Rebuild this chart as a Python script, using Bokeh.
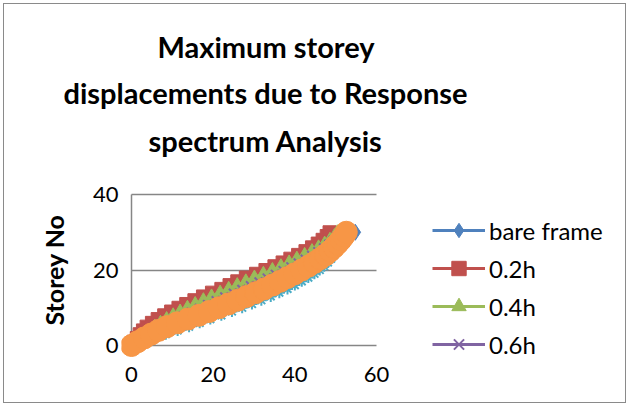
from bokeh.plotting import figure
from bokeh.models import Range1d, FixedTicker, Legend, LegendItem, Title
from bokeh.embed import file_html
from bokeh.resources import INLINE

# Storey numbers and maximum storey displacements (mm) for each infill case
storeys = [0, 1, 2, 3, 4, 5, 6, 7, 8, 9, 10, 11, 12, 13, 14, 15,
           16, 17, 18, 19, 20, 21, 22, 23, 24, 25, 26, 27, 28, 29, 30]

bare_frame = [0, 1.8, 3.8, 6.0, 8.2, 10.6, 13.0, 15.5, 18.1, 20.6, 23.0, 25.4, 27.7, 29.9, 32.0, 34.0,
              35.9, 37.8, 39.6, 41.3, 42.9, 44.4, 45.8, 47.1, 48.3, 49.3, 50.2, 51.0, 51.7, 52.4, 54.8]
h02 = [0, 0.6, 1.3, 2.0, 2.8, 3.7, 5.0, 6.4, 8.0, 9.7, 11.5, 13.4, 15.4, 17.5, 19.7, 22.0,
       24.0, 25.9, 28.0, 30.5, 32.8, 35.0, 37.0, 38.9, 40.8, 42.6, 44.2, 45.6, 46.8, 47.8, 48.5]
h04 = [0, 1.0, 2.1, 3.2, 4.4, 5.7, 7.1, 8.6, 10.2, 11.9, 13.7, 15.6, 17.6, 19.6, 21.7, 23.8,
       25.9, 28.0, 30.1, 32.3, 34.5, 36.6, 38.6, 40.5, 42.4, 44.2, 45.8, 47.3, 48.6, 49.7, 50.4]
h06 = [0, 1.3, 2.7, 4.1, 5.6, 7.2, 8.9, 10.7, 12.6, 14.5, 16.5, 18.5, 20.6, 22.7, 24.8, 26.9,
       29.0, 31.1, 33.1, 35.1, 37.0, 38.9, 40.7, 42.4, 44.0, 45.5, 46.9, 48.2, 49.3, 50.2, 50.9]
h08 = [0, 2.4, 5.3, 8.4, 11.3, 14.1, 16.7, 19.3, 22.0, 24.6, 27.1, 29.5, 31.8, 34.1, 36.2, 38.2,
       40.0, 41.7, 43.3, 44.8, 46.1, 47.2, 48.1, 48.9, 49.6, 50.3, 50.9, 51.4, 51.8, 52.2, 52.5]
h10 = [0, 1.5, 3.1, 4.8, 6.6, 8.7, 11.2, 13.8, 16.5, 19.0, 21.4, 23.7, 26.0, 28.2, 30.4, 32.5,
       34.5, 36.4, 38.2, 40.0, 41.7, 43.3, 44.8, 46.2, 47.5, 48.6, 49.6, 50.5, 51.3, 52.0, 52.6]

series_names = ["bare frame", "0.2h", "0.4h", "0.6h", "0.8h", "1.0h"]
series_values = [bare_frame, h02, h04, h06, h08, h10]
series_colors = ["#4F81BD", "#C0504D", "#9BBB59", "#8064A2", "#4BACC6", "#F79646"]
series_markers = ["diamond", "square", "triangle", "x", "asterisk", "circle"]
series_sizes = [16, 13, 13, 11, 11, 22]

x_ticks = [0, 20, 40, 60]
y_ticks = [0, 20, 40]
title_lines = ["Maximum storey", "displacements due to Response", "spectrum Analysis"]

FONT = "Lato"
GRID = "#868686"

# canvas geometry (px): plot area spans x 0..60 and y 0..40
W, H = 623, 400
X0_PX, X60_PX = 127, 372
Y0_PX, Y40_PX = 341, 190
FRAME_LEFT, FRAME_BOTTOM = 117, 362
xs = (X60_PX - X0_PX) / 60.0
ys = (Y0_PX - Y40_PX) / 40.0
y_low = -(FRAME_BOTTOM - Y0_PX) / ys
y_high = 40 - y_low                      # keeps the axis title centred on the 0..40 span
frame_top = Y40_PX - (y_high - 40) * ys
x_range = Range1d(-(X0_PX - FRAME_LEFT) / xs, (W - X0_PX) / xs)
y_range = Range1d(y_low, y_high)

p = figure(width=W, height=H, output_backend="svg", toolbar_location=None,
           x_range=x_range, y_range=y_range,
           min_border_left=FRAME_LEFT, min_border_right=0,
           min_border_top=int(round(frame_top)), min_border_bottom=H - FRAME_BOTTOM)
p.outline_line_color = None
p.background_fill_color = "white"
p.border_fill_color = "white"
p.styles = {"border": "1px solid #8a8a8a", "margin": "3px"}

p.xaxis.ticker = FixedTicker(ticks=x_ticks)
p.yaxis.ticker = FixedTicker(ticks=y_ticks)
p.xaxis.bounds = (0, 60)
p.yaxis.bounds = (0, 40)
for ax in (p.xaxis, p.yaxis):
    ax.axis_line_color = None
    ax.major_tick_line_color = None
    ax.minor_tick_line_color = None
    ax.major_tick_out = 0
    ax.major_tick_in = 0
    ax.minor_tick_out = 0
    ax.major_label_text_font = FONT
    ax.major_label_text_font_size = "22px"
    ax.major_label_text_color = "black"
p.xaxis.major_label_standoff = 0
p.yaxis.major_label_standoff = 3
p.yaxis.axis_label = "Storey No"
p.yaxis.axis_label_text_font = FONT
p.yaxis.axis_label_text_font_size = "25px"
p.yaxis.axis_label_text_font_style = "bold"
p.yaxis.axis_label_text_color = "black"
p.yaxis.axis_label_standoff = 21

# value axis line at x = 0 and horizontal gridlines, limited to the plot area
p.xgrid.ticker = FixedTicker(ticks=[0])
p.xgrid.grid_line_color = GRID
p.xgrid.grid_line_width = 1.5
p.xgrid.cross_bounds = (0, 40)
p.ygrid.ticker = FixedTicker(ticks=y_ticks)
p.ygrid.grid_line_color = GRID
p.ygrid.grid_line_width = 1.5
p.ygrid.cross_bounds = (0, 60)

renderers = []
for name, vals, color, marker, size in zip(series_names, series_values, series_colors,
                                           series_markers, series_sizes):
    ln = p.line(vals, storeys, line_color=color, line_width=3)
    sc = p.scatter(vals, storeys, marker=marker, size=size, fill_color=color,
                   line_color=color, line_width=2 if marker in ("x", "asterisk") else 1)
    renderers.append((name, [ln, sc]))

legend = Legend(items=[LegendItem(label=n, renderers=r) for n, r in renderers[:4]],
                location=(311, 4), orientation="vertical",
                glyph_width=53, glyph_height=36, label_height=36, spacing=2,
                label_standoff=4, padding=0, margin=0,
                border_line_color=None, background_fill_alpha=0,
                label_text_font=FONT, label_text_font_size="24px", label_text_color="black")
p.add_layout(legend)

# gap between the title block and the plot area
p.add_layout(Title(text=" ", text_font_size="1px", standoff=6), "above")

# three-line chart title centred near x = 261 px; each line is left-anchored
# from its rendered width (last line is nearest the plot)
title_cx = 261
title_widths = [216, 404, 234]
title_standoffs = [10, 9, 13]
for line, wdt, st in reversed(list(zip(title_lines, title_widths, title_standoffs))):
    p.add_layout(Title(text=line, align="left", offset=title_cx - wdt / 2.0 - FRAME_LEFT,
                       standoff=st, text_font=FONT, text_font_size="29px",
                       text_font_style="bold", text_color="black"), "above")

open("out.html", "w").write(file_html(p, INLINE))
